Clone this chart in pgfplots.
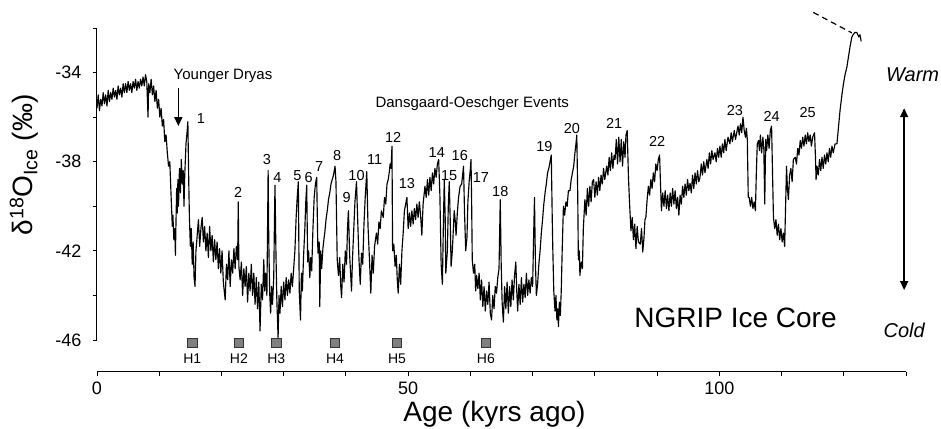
\documentclass[border=0pt]{standalone}
\usepackage{fontspec}
\setmainfont{Liberation Sans}
\usepackage{pgfplots}
\pgfplotsset{compat=1.18}
\usetikzlibrary{arrows.meta}
\newcommand{\fs}[1]{\fontsize{#1}{#1}\selectfont}

\begin{document}
\begin{tikzpicture}
\begin{axis}[
  scale only axis, width=809pt, height=312pt,
  xmin=0, xmax=130, ymin=-46, ymax=-32,
  axis x line*=bottom, axis y line*=left,
  axis x line shift=31.7pt,
  axis line style={line width=1pt},
  tick align=outside, major tick length=4.5pt,
  tick style={line width=0.9pt, black},
  xtick={0,10,...,130}, xticklabels={0,,,,,50,,,,,100,,,},
  ytick={-46,-44,...,-32}, yticklabels={-46,,-42,,-38,,-34,},
  tick label style={font=\fs{18}, inner sep=0pt},
  yticklabel shift=11pt, xticklabel shift=6pt,
  xlabel={Age (kyrs ago)},
  ylabel={δ\textsuperscript{18}O\textsubscript{Ice} (‰)},
  every axis x label/.style={at={(axis description cs:0.4913,-0.2372)}, anchor=center, font=\fs{28}},
  every axis y label/.style={at={(axis description cs:-0.0902,0.561)}, rotate=90, anchor=center, font=\fs{28}},
  clip=false,
]
\coordinate (bl) at (rel axis cs:0,0);
\coordinate (tr) at (rel axis cs:1,1);

% NGRIP d18O record
\addplot[black, line width=1.15pt, line join=round] coordinates {
(0.0,-35.6) (0.2,-35.0) (0.4,-35.7) (0.6,-35.2) (0.8,-35.5) (1.0,-34.9) (1.2,-35.4) (1.4,-35.0)
(1.6,-35.5) (1.8,-34.8) (2.0,-35.3) (2.2,-34.9) (2.4,-35.2) (2.6,-34.7) (2.8,-35.1) (3.0,-34.8)
(3.2,-35.2) (3.4,-34.6) (3.6,-35.0) (3.8,-34.7) (4.0,-35.1) (4.2,-34.5) (4.4,-34.9) (4.6,-34.5)
(4.8,-34.9) (5.0,-34.4) (5.2,-34.8) (5.4,-34.5) (5.6,-34.9) (5.8,-34.4) (6.0,-34.7) (6.2,-34.3)
(6.4,-34.8) (6.6,-34.4) (6.8,-34.7) (7.0,-34.3) (7.2,-34.6) (7.4,-34.2) (7.6,-34.6) (7.8,-34.1)
(8.0,-34.4) (8.2,-36.0) (8.3,-34.5) (8.5,-34.9) (8.7,-34.3) (8.9,-35.0) (9.1,-34.6) (9.3,-35.3)
(9.5,-34.8) (9.7,-35.6) (9.9,-35.2) (10.1,-36.0) (10.3,-35.6) (10.5,-36.4) (10.7,-36.1) (10.9,-37.1)
(11.1,-36.8) (11.3,-37.6) (11.5,-38.2) (11.7,-38.0) (11.9,-39.5) (12.0,-40.2) (12.1,-40.9) (12.2,-40.4)
(12.35,-41.5) (12.5,-41.0) (12.6,-42.2) (12.7,-40.6) (12.8,-39.2) (12.9,-40.3) (13.0,-38.8) (13.1,-40.0)
(13.25,-38.3) (13.4,-39.4) (13.55,-37.9) (13.7,-39.0) (13.85,-38.4) (13.98,-40.0) (14.1,-38.6) (14.3,-37.2)
(14.5,-36.6) (14.6,-36.2) (14.75,-39.0) (14.85,-40.5) (15.0,-41.8) (15.15,-41.0) (15.3,-42.6) (15.45,-41.6)
(15.6,-43.2) (15.75,-43.6) (15.9,-42.0) (16.1,-41.3) (16.3,-40.6) (16.5,-41.8) (16.7,-41.0) (16.9,-40.5)
(17.1,-41.6) (17.3,-40.9) (17.5,-42.0) (17.7,-41.2) (17.9,-42.3) (18.1,-40.9) (18.3,-42.0) (18.5,-41.3)
(18.7,-42.5) (18.9,-41.5) (19.1,-42.4) (19.3,-41.6) (19.5,-42.8) (19.7,-41.9) (19.9,-43.0) (20.1,-42.0)
(20.3,-43.4) (20.6,-44.2) (20.8,-42.6) (21.0,-43.3) (21.2,-42.0) (21.4,-43.6) (21.6,-42.4) (21.8,-43.0)
(22.0,-41.9) (22.2,-42.8) (22.4,-41.8) (22.6,-42.4) (22.7,-39.8) (22.8,-42.7) (23.0,-43.3) (23.2,-42.5)
(23.4,-44.0) (23.6,-42.8) (23.8,-43.6) (24.0,-42.7) (24.2,-44.3) (24.4,-43.0) (24.6,-43.8) (24.8,-42.6)
(25.0,-44.0) (25.2,-43.0) (25.4,-44.4) (25.6,-43.2) (25.8,-44.6) (26.0,-43.4) (26.2,-45.6) (26.4,-43.5)
(26.6,-44.2) (26.8,-42.4) (26.95,-43.8) (27.1,-43.0) (27.3,-44.0) (27.5,-38.4) (27.6,-41.5) (27.75,-43.9)
(27.9,-44.8) (28.05,-43.6) (28.2,-44.4) (28.4,-43.2) (28.5,-41.0) (28.6,-39.05) (28.75,-42.0) (28.9,-44.2)
(29.1,-45.9) (29.25,-44.0) (29.4,-44.8) (29.6,-43.6) (29.8,-44.5) (30.0,-43.4) (30.2,-44.2) (30.4,-43.2)
(30.6,-44.0) (30.8,-43.3) (31.0,-43.9) (31.2,-43.0) (31.4,-43.6) (31.6,-42.8) (31.8,-42.0) (32.0,-40.5)
(32.15,-39.7) (32.35,-38.9) (32.5,-43.8) (32.7,-45.1) (32.85,-43.0) (33.0,-43.8) (33.2,-42.2) (33.4,-41.0)
(33.55,-39.8) (33.7,-39.05) (33.85,-42.5) (34.0,-42.0) (34.2,-43.2) (34.35,-42.3) (34.5,-42.9) (34.7,-41.0)
(34.9,-39.6) (35.1,-39.0) (35.3,-38.7) (35.5,-42.1) (35.7,-41.6) (35.8,-44.5) (35.95,-42.0) (36.1,-42.8)
(36.3,-41.9) (36.5,-41.4) (36.6,-41.2) (36.8,-40.6) (37.0,-40.2) (37.2,-39.7) (37.4,-39.4) (37.6,-39.0)
(37.8,-38.8) (38.0,-38.6) (38.25,-38.2) (38.4,-38.9) (38.6,-42.4) (38.8,-43.1) (39.0,-42.3) (39.15,-43.5)
(39.3,-44.1) (39.5,-42.6) (39.7,-43.4) (39.9,-42.0) (40.1,-42.6) (40.25,-41.0) (40.4,-40.2) (40.6,-42.2)
(40.75,-43.0) (40.9,-43.8) (41.05,-42.4) (41.25,-41.1) (41.45,-39.8) (41.7,-38.9) (41.9,-40.7) (42.1,-42.4)
(42.3,-43.5) (42.5,-42.1) (42.7,-42.6) (42.9,-40.8) (43.1,-39.6) (43.35,-38.45) (43.55,-40.9) (43.8,-42.5)
(44.0,-43.9) (44.2,-42.2) (44.4,-43.0) (44.6,-41.8) (44.9,-41.2) (45.1,-41.7) (45.3,-40.7) (45.5,-41.0)
(45.7,-40.2) (46.0,-40.5) (46.2,-39.6) (46.4,-39.9) (46.6,-39.0) (46.8,-38.8) (47.0,-38.4) (47.1,-38.1)
(47.25,-38.3) (47.4,-37.3) (47.5,-42.0) (47.7,-41.7) (47.9,-42.7) (48.1,-42.2) (48.25,-43.3) (48.4,-43.9)
(48.6,-42.6) (48.8,-43.5) (49.0,-42.0) (49.2,-41.2) (49.4,-40.2) (49.6,-39.9) (49.8,-39.6) (50.0,-41.0)
(50.2,-40.3) (50.4,-40.9) (50.6,-40.2) (50.8,-40.8) (51.0,-40.1) (51.2,-40.6) (51.4,-39.9) (51.6,-40.5)
(51.8,-39.8) (52.0,-40.4) (52.2,-41.3) (52.4,-39.9) (52.7,-39.1) (52.9,-39.6) (53.1,-38.8) (53.3,-39.5)
(53.5,-38.7) (53.7,-39.3) (53.9,-38.5) (54.1,-39.0) (54.3,-38.3) (54.5,-38.7) (54.7,-38.1) (54.9,-37.9)
(55.1,-39.5) (55.3,-42.6) (55.5,-43.5) (55.65,-41.0) (55.8,-38.8) (55.95,-40.5) (56.05,-43.0) (56.3,-42.0)
(56.45,-40.0) (56.6,-38.9) (56.75,-40.5) (56.9,-42.7) (57.1,-42.0) (57.3,-40.8) (57.4,-40.2) (57.55,-40.6)
(57.7,-41.3) (57.9,-40.3) (58.1,-39.6) (58.35,-39.1) (58.6,-39.0) (58.75,-38.6) (58.9,-38.2) (59.05,-40.2)
(59.25,-42.0) (59.45,-41.4) (59.6,-39.8) (59.8,-38.9) (60.0,-38.3) (60.1,-37.9) (60.2,-39.8) (60.3,-42.4)
(60.5,-43.0) (60.7,-42.6) (60.85,-43.8) (61.0,-43.1) (61.2,-43.7) (61.4,-43.0) (61.6,-44.2) (61.8,-43.3)
(62.0,-44.5) (62.2,-43.6) (62.4,-44.7) (62.6,-43.8) (62.8,-44.4) (63.0,-43.4) (63.2,-44.8) (63.4,-45.1)
(63.6,-44.0) (63.8,-44.6) (64.0,-43.6) (64.2,-43.9) (64.4,-43.2) (64.6,-42.8) (64.8,-39.7) (64.95,-42.6)
(65.1,-44.3) (65.3,-45.2) (65.5,-43.6) (65.7,-44.6) (65.9,-43.4) (66.1,-44.8) (66.3,-43.6) (66.5,-44.5)
(66.7,-43.3) (66.9,-44.2) (67.1,-43.1) (67.3,-42.5) (67.45,-43.8) (67.6,-44.7) (67.8,-43.5) (68.0,-44.4)
(68.2,-43.2) (68.4,-44.3) (68.6,-43.5) (68.8,-44.1) (69.0,-43.0) (69.2,-44.0) (69.4,-43.3) (69.6,-43.9)
(69.8,-43.2) (70.0,-43.6) (70.15,-41.5) (70.3,-39.6) (70.45,-42.5) (70.6,-44.0) (70.8,-43.5) (71.0,-42.6)
(71.2,-42.0) (71.4,-41.2) (71.6,-40.6) (71.8,-39.9) (72.0,-39.4) (72.2,-39.0) (72.4,-38.5) (72.6,-38.3)
(72.8,-38.0) (73.0,-37.7) (73.15,-40.5) (73.25,-42.0) (73.4,-43.8) (73.6,-44.7) (73.75,-44.0) (73.9,-45.1)
(74.05,-44.6) (74.15,-45.4) (74.3,-44.3) (74.45,-44.9) (74.6,-43.8) (74.75,-42.0) (74.95,-40.0) (75.15,-40.4)
(75.35,-39.8) (75.55,-40.0) (75.75,-39.3) (76.0,-39.3) (76.2,-38.8) (76.4,-38.5) (76.6,-38.2) (76.8,-37.6)
(77.0,-37.1) (77.1,-36.8) (77.25,-39.5) (77.35,-42.4) (77.5,-42.0) (77.6,-43.1) (77.8,-42.5) (78.0,-42.8)
(78.15,-41.0) (78.4,-39.7) (78.6,-40.4) (78.8,-39.2) (79.0,-40.0) (79.2,-39.1) (79.4,-39.8) (79.6,-38.9)
(79.8,-38.8) (80.0,-39.6) (80.2,-38.9) (80.4,-39.5) (80.6,-38.7) (80.8,-39.3) (81.0,-38.6) (81.2,-39.0)
(81.4,-38.3) (81.6,-38.8) (81.9,-38.2) (82.1,-38.6) (82.3,-37.8) (82.5,-38.4) (82.7,-37.6) (82.9,-38.3)
(83.1,-37.7) (83.25,-37.9) (83.45,-37.0) (83.65,-38.1) (83.85,-36.9) (84.05,-38.0) (84.25,-37.0) (84.45,-38.2)
(84.65,-37.1) (84.85,-37.8) (85.0,-36.8) (85.2,-36.6) (85.4,-38.7) (85.6,-40.0) (85.8,-41.1) (86.0,-40.5)
(86.2,-41.5) (86.4,-40.8) (86.6,-41.9) (86.8,-40.9) (87.0,-41.6) (87.3,-41.7) (87.5,-41.0) (87.7,-42.05)
(87.9,-41.4) (88.05,-40.6) (88.2,-40.5) (88.4,-39.7) (88.6,-39.1) (88.8,-39.5) (89.0,-38.8) (89.2,-39.2)
(89.4,-38.5) (89.6,-38.9) (89.8,-38.1) (90.0,-38.4) (90.2,-37.9) (90.4,-37.7) (90.55,-39.0) (90.7,-40.2)
(90.9,-39.4) (91.1,-40.0) (91.3,-39.3) (91.5,-40.1) (91.7,-39.5) (91.9,-40.2) (92.1,-39.4) (92.3,-40.0)
(92.5,-39.2) (92.7,-39.9) (92.9,-39.3) (93.1,-40.1) (93.3,-39.6) (93.5,-40.4) (93.7,-39.5) (93.9,-39.9)
(94.1,-39.1) (94.3,-39.6) (94.5,-39.0) (94.7,-39.5) (94.9,-38.8) (95.1,-39.3) (95.3,-38.97) (95.5,-39.4)
(95.7,-38.6) (95.9,-39.2) (96.1,-38.5) (96.3,-39.0) (96.5,-38.4) (96.7,-38.9) (96.9,-38.7) (97.1,-38.1)
(97.3,-38.6) (97.5,-38.0) (97.7,-38.5) (98.0,-37.9) (98.2,-38.3) (98.4,-37.6) (98.6,-38.1) (98.8,-37.5)
(99.0,-37.9) (99.3,-37.6) (99.5,-38.0) (99.7,-37.4) (99.9,-37.8) (100.1,-37.3) (100.3,-37.8) (100.5,-37.2)
(100.7,-37.6) (100.9,-37.0) (101.1,-37.5) (101.4,-36.9) (101.7,-37.2) (101.9,-36.7) (102.1,-37.1) (102.4,-36.6)
(102.6,-37.0) (102.8,-36.7) (103.0,-36.4) (103.2,-36.8) (103.4,-36.3) (103.6,-36.7) (103.8,-36.0) (104.0,-36.6)
(104.2,-36.9) (104.35,-36.5) (104.5,-37.0) (104.65,-39.6) (104.8,-39.6) (105.0,-40.0) (105.2,-39.6) (105.4,-40.1)
(105.6,-39.8) (105.8,-40.2) (105.95,-38.5) (106.1,-37.2) (106.3,-37.05) (106.45,-37.5) (106.6,-36.8) (106.8,-37.6)
(107.0,-36.9) (107.15,-37.4) (107.3,-39.9) (107.45,-37.0) (107.6,-37.5) (107.8,-36.8) (108.0,-37.4) (108.2,-36.6)
(108.4,-36.4) (108.55,-38.5) (108.7,-40.5) (108.9,-41.0) (109.1,-40.6) (109.3,-41.3) (109.5,-40.8) (109.7,-41.5)
(109.9,-41.0) (110.1,-41.6) (110.3,-41.2) (110.5,-41.8) (110.65,-40.0) (110.8,-38.2) (110.95,-39.2) (111.1,-39.7)
(111.3,-38.6) (111.5,-38.3) (111.7,-38.9) (111.9,-37.9) (112.2,-37.8) (112.4,-38.1) (112.6,-37.4) (112.8,-37.7)
(113.0,-37.05) (113.2,-37.4) (113.4,-36.9) (113.6,-37.3) (113.8,-36.8) (114.0,-37.2) (114.2,-36.7) (114.4,-37.1)
(114.6,-36.8) (114.8,-37.3) (115.0,-36.9) (115.3,-36.7) (115.45,-37.8) (115.55,-38.8) (115.7,-38.2) (115.9,-38.6)
(116.1,-37.9) (116.3,-38.4) (116.5,-37.8) (116.7,-38.3) (116.9,-37.7) (117.1,-38.1) (117.3,-37.6) (117.5,-38.0)
(117.7,-37.4) (117.9,-37.8) (118.1,-37.3) (118.3,-37.6) (118.6,-37.2) (118.9,-37.2) (119.1,-36.6) (119.4,-35.7)
(119.7,-35.0) (119.95,-34.5) (120.2,-34.1) (120.5,-33.75) (120.75,-33.3) (121.0,-32.85) (121.3,-32.4) (121.5,-32.3)
(121.8,-32.2) (122.1,-32.2) (122.4,-32.4) (122.6,-32.3) (122.8,-32.6)
};

% dashed extension
\addplot[black, line width=1.2pt, dash pattern=on 6pt off 4pt] coordinates {(115.1,-31.3) (121.3,-32.22)};

% Heinrich events
\addplot[only marks, mark=square*, mark size=4.6pt,
  mark options={fill=gray, draw=black!80, line width=0.6pt},
  point meta=explicit symbolic, nodes near coords, nodes near coords align=below,
  every node near coord/.append style={font=\fs{14}, inner sep=0pt, yshift=-11pt, text=black}]
  coordinates {(15.3,-46.12)[H1] (22.8,-46.12)[H2] (28.8,-46.12)[H3] (38.25,-46.12)[H4] (48.2,-46.12)[H5] (62.5,-46.12)[H6]};

% D-O event numbers
\addplot[draw=none, mark=none, point meta=explicit symbolic, nodes near coords, nodes near coords align=center,
  every node near coord/.append style={font=\fs{14.5}, inner sep=0pt, text=black}]
  coordinates {
  (16.7,-36.05)[1] (22.7,-39.4)[2] (27.3,-37.9)[3] (29.0,-38.7)[4] (32.2,-38.6)[5] (34.0,-38.7)[6]
  (35.7,-38.2)[7] (38.6,-37.7)[8] (40.1,-39.6)[9] (41.7,-38.6)[10] (44.6,-37.9)[11] (47.6,-36.9)[12]
  (49.8,-39.0)[13] (54.6,-37.6)[14] (56.6,-38.6)[15] (58.3,-37.7)[16] (61.7,-38.7)[17] (64.8,-39.35)[18]
  (71.9,-37.3)[19] (76.3,-36.5)[20] (83.1,-36.3)[21] (90.0,-37.1)[22] (102.5,-35.7)[23] (108.4,-35.95)[24]
  (114.2,-35.8)[25]
  };

\node[font=\fs{15}] at (axis cs:20.25,-34.17) {Younger Dryas};
\draw[line width=1.6pt, -{Triangle[length=9pt,width=8pt]}] (axis cs:13.07,-34.67) -- (axis cs:13.07,-36.4);
\node[font=\fs{15}] at (axis cs:60.3,-35.4) {Dansgaard-Oeschger Events};
\node[font=\fs{28}] at (axis cs:102.6,-45.0) {NGRIP Ice Core};
\node[font=\fs{20}\itshape] at (axis cs:131.07,-34.08) {Warm};
\node[font=\fs{20}\itshape] at (axis cs:129.7,-45.55) {Cold};
\draw[line width=1.6pt, {Triangle[length=9pt,width=8pt]}-{Triangle[length=9pt,width=8pt]}] (axis cs:129.7,-35.6) -- (axis cs:129.7,-43.76);
\end{axis}
\pgfresetboundingbox
\path ([shift={(-97pt,-88pt)}]bl) rectangle ([shift={(35pt,28pt)}]tr);
\end{tikzpicture}
\end{document}
